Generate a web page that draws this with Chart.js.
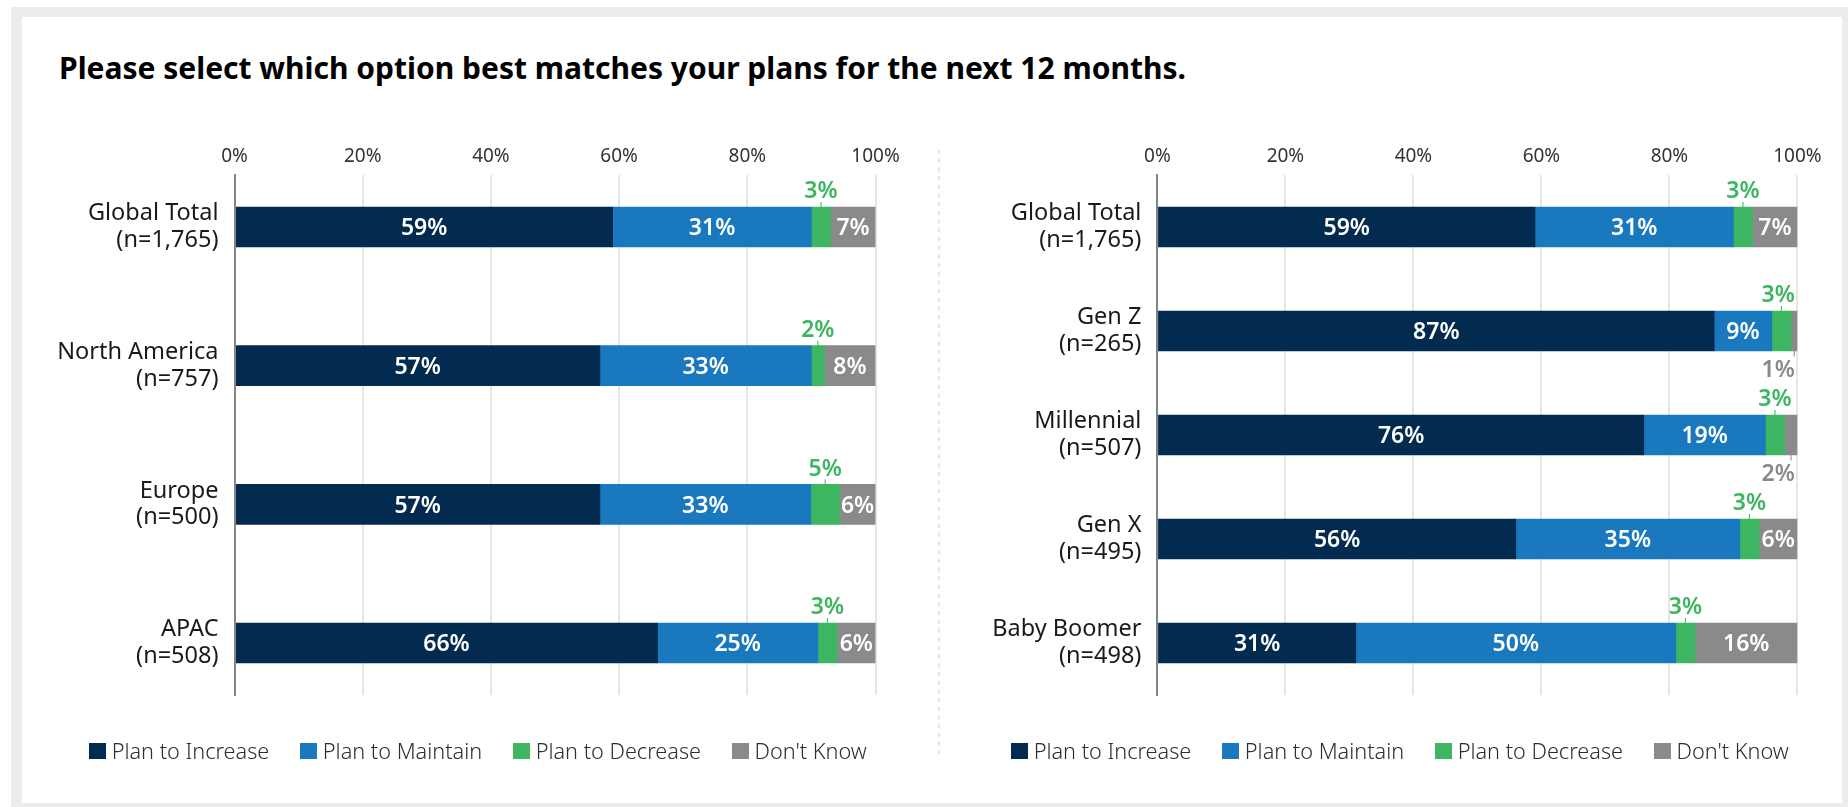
<!DOCTYPE html>
<html>
<head>
<meta charset="utf-8">
<title>Plans for the next 12 months</title>
<script src="https://cdn.jsdelivr.net/npm/chart.js@4.4.1/dist/chart.umd.min.js"></script>
<style>
  html, body { margin: 0; padding: 0; background: #fff; width: 1848px; height: 807px; overflow: hidden; font-family: "Noto Sans", sans-serif; }
  #frame { position: absolute; left: 11px; top: 7px; right: 0; bottom: 0; background: #ececec; }
  #card { position: absolute; left: 22px; top: 17px; width: 1820px; height: 786px; background: #fff; }
  h1 { position: absolute; left: 59px; top: 48px; margin: 0; font-size: 30px; font-weight: 700; color: #000; line-height: 40px; white-space: nowrap; }
  canvas { position: absolute; top: 100px; }
  #sep { position: absolute; left: 934px; top: 150px; }
  .legend { position: absolute; top: 738px; width: 1000px; display: flex; justify-content: center; gap: 31px; font-size: 21.7px; font-weight: 300; color: #2e2e2e; line-height: 26px; }
  .legend .item { display: flex; align-items: center; white-space: nowrap; }
  .legend .sw { width: 16.5px; height: 16.7px; margin-right: 6px; }
</style>
</head>
<body>
<div id="frame"></div>
<div id="card"></div>
<h1>Please select which option best matches your plans for the next 12 months.</h1>
<canvas id="regionChart" width="916" height="700" style="left:22px"></canvas>
<svg id="sep" width="10" height="612"><line x1="5" y1="0" x2="5" y2="608" stroke="#e0e0e0" stroke-width="1.7" stroke-dasharray="4 4.7"/></svg>
<canvas id="generationChart" width="903" height="700" style="left:939px"></canvas>
<div class="legend" id="regionLegend" style="left:-22px"></div>
<div class="legend" id="generationLegend" style="left:900px"></div>

<script>
// Answer options and their colours
const seriesNames = ["Plan to Increase", "Plan to Maintain", "Plan to Decrease", "Don't Know"];
const seriesColors = ["#022b4f", "#1a79be", "#3db561", "#8a8a8a"];

// Percentage axis ticks
const xTickValues = [0, 20, 40, 60, 80, 100];

// By region
const regionCategories = [
  ["Global Total", "(n=1,765)"],
  ["North America", "(n=757)"],
  ["Europe", "(n=500)"],
  ["APAC", "(n=508)"]
];
const regionIncrease = [59, 57, 57, 66];
const regionMaintain = [31, 33, 32.9, 25];
const regionDecrease = [3, 2, 4.5, 3];
const regionDontKnow = [7, 8, 5.6, 6];

// By generation
const generationCategories = [
  ["Global Total", "(n=1,765)"],
  ["Gen Z", "(n=265)"],
  ["Millennial", "(n=507)"],
  ["Gen X", "(n=495)"],
  ["Baby Boomer", "(n=498)"]
];
const generationIncrease = [59, 87, 76, 56, 31];
const generationMaintain = [31, 9, 19, 35, 50];
const generationDecrease = [3, 3, 3, 3, 3];
const generationDontKnow = [7, 1, 2, 6, 16];

const LABEL_FONT = 23;

// Percent labels: inside the segment, or above/below with a short leader line for thin segments
const valueLabels = {
  id: 'valueLabels',
  afterDatasetsDraw(chart) {
    const { ctx, chartArea } = chart;
    ctx.save();
    ctx.font = '600 ' + LABEL_FONT + 'px "Noto Sans"';
    ctx.textAlign = 'center';
    ctx.textBaseline = 'alphabetic';
    chart.data.datasets.forEach((ds, di) => {
      const meta = chart.getDatasetMeta(di);
      meta.data.forEach((bar, i) => {
        const v = ds.data[i].x;
        const { x, base, y, height } = bar.getProps(['x', 'base', 'y', 'height'], true);
        const cx = (x + base) / 2;
        const text = Math.round(v) + '%';
        const top = y - height / 2;
        const bottom = y + height / 2;
        const placement = di === 2 ? 'above' : (v < 3 ? 'below' : 'inside');
        if (placement === 'inside') {
          ctx.fillStyle = '#ffffff';
          ctx.fillText(text, cx, y + 0.357 * LABEL_FONT);
          return;
        }
        const w = ctx.measureText(text).width;
        const tx = Math.min(cx, chartArea.right - 2.5 - w / 2);
        ctx.fillStyle = ds.backgroundColor;
        ctx.strokeStyle = ds.backgroundColor;
        ctx.lineWidth = 1;
        ctx.beginPath();
        if (placement === 'above') {
          ctx.moveTo(cx, top - 5);
          ctx.lineTo(cx, top);
          ctx.stroke();
          ctx.fillText(text, tx, top - 8.7);
        } else {
          ctx.moveTo(cx, bottom);
          ctx.lineTo(cx, bottom + 5.5);
          ctx.stroke();
          ctx.fillText(text, tx, bottom + 26);
        }
      });
    });
    ctx.restore();
  }
};

function makeChart(id, categories, seriesValues, indexPad, axisWidth, rightPad) {
  return new Chart(document.getElementById(id), {
    type: 'bar',
    data: {
      datasets: seriesNames.map((name, s) => ({
        label: name,
        data: seriesValues[s].map((v, i) => ({ x: v, y: i })),
        backgroundColor: seriesColors[s],
        borderWidth: 0,
        barThickness: 40
      }))
    },
    options: {
      indexAxis: 'y',
      responsive: false,
      animation: false,
      layout: { padding: { left: 0, right: rightPad, top: 0, bottom: 105 } },
      plugins: { legend: { display: false }, tooltip: { enabled: false } },
      scales: {
        x: {
          type: 'linear',
          position: 'top',
          min: 0,
          max: 100,
          stacked: true,
          afterBuildTicks: s => { s.ticks = xTickValues.map(v => ({ value: v })); },
          afterFit: s => { s.height = 75; },
          grid: { color: '#e6e6e6', lineWidth: 2, drawTicks: false },
          border: { display: false },
          ticks: {
            callback: v => v + '%',
            font: { family: 'Noto Sans', size: 19 },
            color: '#333333',
            padding: 7
          }
        },
        y: {
          type: 'linear',
          min: -indexPad,
          max: categories.length - 1 + indexPad,
          reverse: true,
          stacked: true,
          offset: false,
          afterBuildTicks: s => { s.ticks = categories.map((_, i) => ({ value: i })); },
          afterFit: s => { s.width = axisWidth; },
          grid: { display: false, drawTicks: false, offset: false },
          border: { display: true, color: '#858585', width: 2, z: 1 },
          ticks: {
            autoSkip: false,
            callback: v => categories[v],
            font: { family: 'Noto Sans', size: 23.5, lineHeight: 1.13 },
            color: '#1a1a1a',
            padding: 16
          }
        }
      }
    },
    plugins: [valueLabels]
  });
}

function buildLegend(id) {
  const el = document.getElementById(id);
  seriesNames.forEach((name, s) => {
    const item = document.createElement('div');
    item.className = 'item';
    const sw = document.createElement('span');
    sw.className = 'sw';
    sw.style.background = seriesColors[s];
    const label = document.createElement('span');
    label.textContent = name;
    item.appendChild(sw);
    item.appendChild(label);
    el.appendChild(item);
  });
}

makeChart('regionChart', regionCategories,
  [regionIncrease, regionMaintain, regionDecrease, regionDontKnow], 0.375, 212.5, 62.5);
makeChart('generationChart', generationCategories,
  [generationIncrease, generationMaintain, generationDecrease, generationDontKnow], 0.5, 218.4, 44.6);
buildLegend('regionLegend');
buildLegend('generationLegend');
</script>
</body>
</html>
